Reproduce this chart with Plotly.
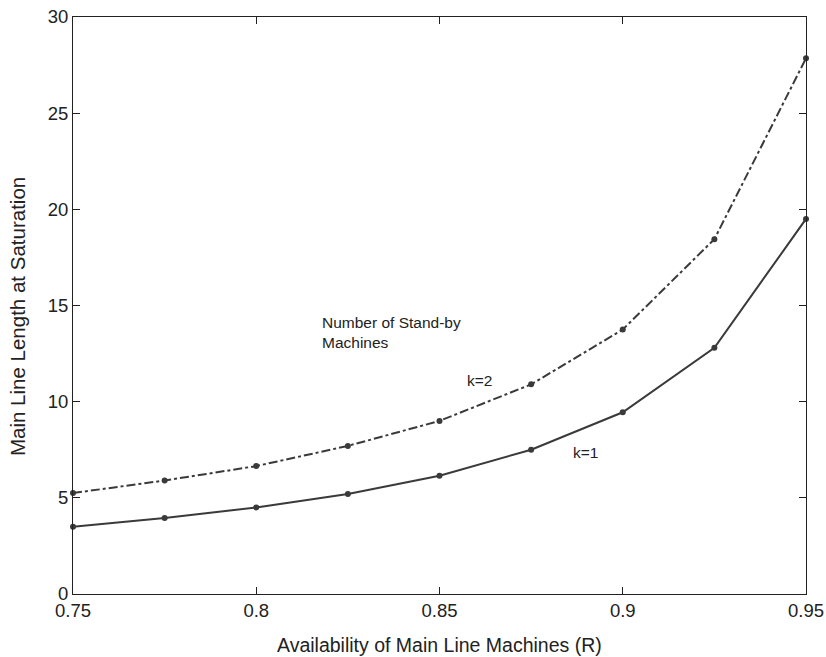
import plotly.graph_objects as go

R = [0.75, 0.775, 0.8, 0.825, 0.85, 0.875, 0.9, 0.925, 0.95]
k1 = [3.5, 3.95, 4.5, 5.2, 6.15, 7.5, 9.45, 12.8, 19.5]
k2 = [5.25, 5.9, 6.65, 7.7, 9.0, 10.9, 13.75, 18.45, 27.85]
x_ticks = [0.75, 0.8, 0.85, 0.9, 0.95]
x_labels = ["0.75", "0.8", "0.85", "0.9", "0.95"]
y_ticks = [0, 5, 10, 15, 20, 25, 30]

col = "#3a3a3a"
txt = "#222"
fig = go.Figure()
fig.add_trace(go.Scatter(x=R, y=k2, mode="lines+markers",
                         line=dict(color=col, width=2, dash="dashdot"),
                         marker=dict(size=6, color=col), showlegend=False, cliponaxis=False))
fig.add_trace(go.Scatter(x=R, y=k1, mode="lines+markers",
                         line=dict(color=col, width=2),
                         marker=dict(size=6, color=col), showlegend=False, cliponaxis=False))

fig.add_annotation(x=0.8175, y=13.6, text="Number of Stand-by<br>Machines", showarrow=False,
                   xanchor="left", align="left", font=dict(size=15.5, color=txt))
fig.add_annotation(x=0.857, y=11.1, text="k=2", showarrow=False, xanchor="left",
                   font=dict(size=15.5, color=txt))
fig.add_annotation(x=0.886, y=7.35, text="k=1", showarrow=False, xanchor="left",
                   font=dict(size=15.5, color=txt))

# axis titles
fig.add_annotation(xref="paper", yref="paper", x=0.5, y=0, yshift=-51, yanchor="middle",
                   text="Availability of Main Line Machines (R)", showarrow=False,
                   font=dict(size=19.5, color=txt))
fig.add_annotation(xref="paper", yref="paper", x=0, y=0.48, xshift=-56, xanchor="center",
                   yanchor="middle", textangle=-90, text="Main Line Length at Saturation",
                   showarrow=False, font=dict(size=20.5, color=txt))

axis_common = dict(showline=True, linecolor="#222", linewidth=1, mirror="ticks",
                   ticks="inside", ticklen=7, tickcolor="#222", showgrid=False,
                   zeroline=False, tickfont=dict(size=18.5, color=txt), automargin=False)
fig.update_xaxes(range=[0.75, 0.95], tickvals=x_ticks, ticktext=x_labels, **axis_common)
fig.update_yaxes(range=[0, 30], tickvals=y_ticks, **axis_common)
fig.update_layout(width=826, height=657, margin=dict(l=73, r=20, t=17, b=63),
                  plot_bgcolor="white", paper_bgcolor="white",
                  font=dict(family="Liberation Sans, Arial, sans-serif"))
fig.write_html("out.html", config={"displayModeBar": False},
               post_script="document.body.style.margin='0';document.body.style.overflow='hidden';")
